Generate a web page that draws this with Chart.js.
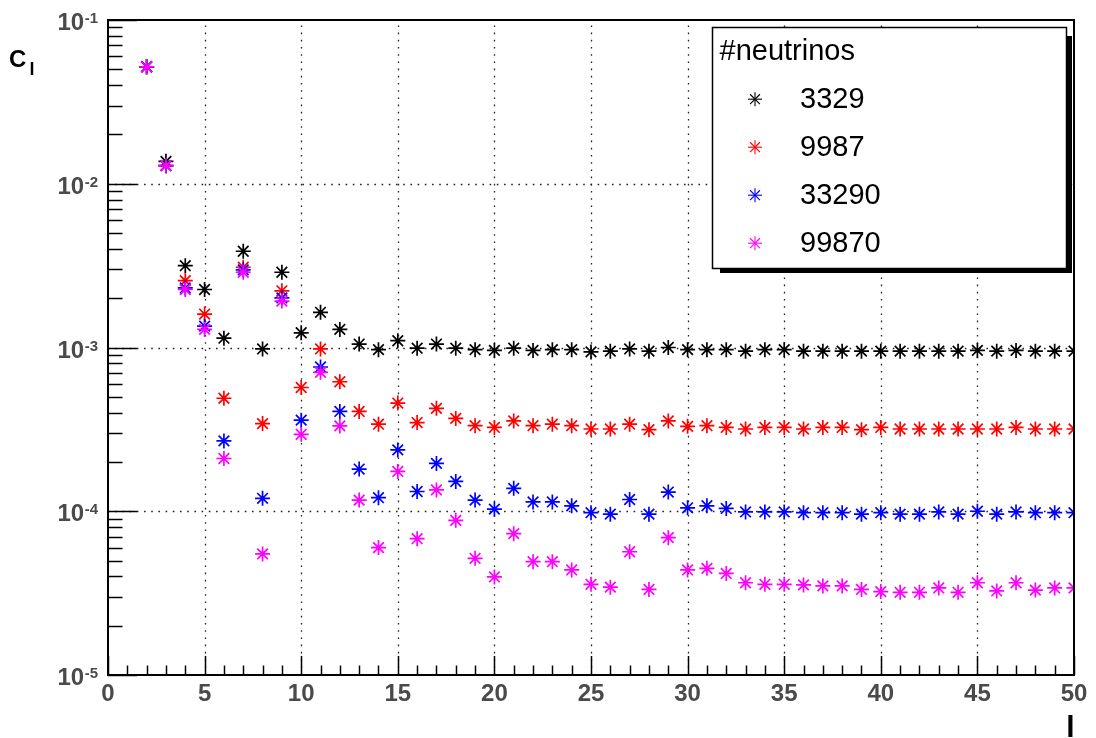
<!DOCTYPE html>
<html><head><meta charset="utf-8">
<script src="https://cdn.jsdelivr.net/npm/chart.js@4.4.1/dist/chart.umd.min.js"></script>
<style>html,body{margin:0;padding:0;background:#fff;overflow:hidden}#wrap{width:1096px;height:738px;position:relative}</style>
</head><body><div id="wrap"><canvas id="c" width="1096" height="738"></canvas></div>
<script>
// ---- data ----
const multipoles = [2,3,4,5,6,7,8,9,10,11,12,13,14,15,16,17,18,19,20,21,22,23,24,25,26,27,28,29,30,31,32,33,34,35,36,37,38,39,40,41,42,43,44,45,46,47,48,49,50];
const seriesNames = ['3329','9987','33290','99870'];
const seriesColors = ['#000000','#ff0000','#0000ff','#ff00ff'];
const cl3329 = [0.0518,0.0137,0.00316,0.00226,0.00114,0.00387,0.00098,0.00288,0.00123,0.00164,0.00129,0.00105,0.00097,0.00110,0.00099,0.00105,0.00099,0.00097,0.00096,0.00099,0.00096,0.00097,0.00097,0.00094,0.00095,0.00098,0.00095,0.00100,0.00097,0.00097,0.00097,0.00095,0.00097,0.00097,0.00095,0.00095,0.00095,0.00095,0.00095,0.00095,0.00095,0.00095,0.00095,0.00096,0.00095,0.00096,0.00095,0.00095,0.00095];
const cl9987 = [0.0518,0.0129,0.00256,0.00160,0.00049,0.00309,0.000343,0.00222,0.00057,0.00098,0.000618,0.000407,0.00034,0.000458,0.000348,0.000425,0.000369,0.000333,0.000325,0.000356,0.000333,0.00034,0.000333,0.000318,0.000318,0.00034,0.000315,0.000356,0.00033,0.000333,0.000325,0.000318,0.000325,0.000325,0.000318,0.000325,0.000325,0.000315,0.000325,0.000318,0.000318,0.000318,0.000318,0.000318,0.000318,0.000325,0.000318,0.000318,0.000318];
const cl33290 = [0.0518,0.0129,0.00231,0.00135,0.000269,0.00298,0.00012,0.00201,0.00036,0.00076,0.000407,0.000181,0.000121,0.000237,0.000132,0.000196,0.000152,0.000117,0.000103,0.000138,0.000114,0.000114,0.000108,0.000098,0.000096,0.000118,0.000096,0.000131,0.000105,0.000108,0.000104,0.000099,0.000099,0.000099,0.000098,0.000098,0.000098,0.000096,0.000098,0.000096,0.000096,0.000099,0.000096,0.0001,0.000096,0.000099,0.000098,0.000098,0.000098];
const cl99870 = [0.0518,0.0129,0.00226,0.00129,0.00021,0.00288,0.0000549,0.00192,0.000295,0.000705,0.000332,0.000117,0.00006,0.000175,0.000068,0.000135,0.000088,0.0000516,0.0000397,0.000073,0.0000492,0.0000492,0.0000438,0.0000358,0.0000344,0.0000566,0.0000333,0.000069,0.0000438,0.0000448,0.0000417,0.0000366,0.0000358,0.0000358,0.0000355,0.000035,0.000035,0.0000333,0.0000323,0.000032,0.000032,0.000034,0.000032,0.0000366,0.0000326,0.0000366,0.000033,0.000034,0.000034];
const xMajorTicks = [0,5,10,15,20,25,30,35,40,45,50];
const yExponents = [-5,-4,-3,-2,-1];
const legendTitle = '#neutrinos';
const yTitle = 'C', ySub = 'l', xTitle = 'l';

const allSeries = [cl3329, cl9987, cl33290, cl99870];
const LABEL_GRAY = '#4a4a4a';
const FONT = '"Liberation Sans", Arial, Helvetica, sans-serif';

const datasets = allSeries.map((vals, i) => ({
  label: seriesNames[i],
  data: multipoles.map((l, j) => ({x: l, y: vals[j]})),
  showLine: false,
  pointStyle: 'star',
  pointRadius: 7.5,
  pointHoverRadius: 7.5,
  pointBorderWidth: 1.7,
  borderColor: seriesColors[i],
  backgroundColor: seriesColors[i],
  order: allSeries.length - 1 - i
}));

const rootPlugin = {
  id: 'rootStyle',
  beforeDatasetsDraw(chart) {
    const {ctx, chartArea: a, scales: {x, y}} = chart;
    ctx.save();
    ctx.strokeStyle = '#222';
    ctx.lineWidth = 1.3;
    ctx.setLineDash([1.6, 5.6]);
    xMajorTicks.forEach(v => {
      if (v <= x.min || v >= x.max) return;
      const px = Math.round(x.getPixelForValue(v)) + 0.5;
      ctx.beginPath(); ctx.moveTo(px, a.bottom); ctx.lineTo(px, a.top); ctx.stroke();
    });
    yExponents.forEach(e => {
      const v = Math.pow(10, e);
      if (v <= y.min * 1.0001 || v >= y.max * 0.9999) return;
      const py = Math.round(y.getPixelForValue(v)) + 0.5;
      ctx.beginPath(); ctx.moveTo(a.left, py); ctx.lineTo(a.right, py); ctx.stroke();
    });
    ctx.restore();
  },
  afterDatasetsDraw(chart) {
    const {ctx, chartArea: a, scales: {x, y}} = chart;
    ctx.save();
    ctx.setLineDash([]);
    ctx.strokeStyle = '#000';
    // ticks x (inward)
    ctx.lineWidth = 1.5;
    for (let v = x.min; v <= x.max; v += 1) {
      const px = Math.round(x.getPixelForValue(v)) + 0.5;
      const len = (v % 5 === 0) ? 19 : 9.5;
      ctx.beginPath(); ctx.moveTo(px, a.bottom); ctx.lineTo(px, a.bottom - len); ctx.stroke();
    }
    // ticks y (inward)
    for (let e = -5; e < -1 + 0.5; e++) {
      for (let m = 1; m <= 9; m++) {
        const v = m * Math.pow(10, e);
        if (v > y.max * 1.0001) break;
        const py = Math.round(y.getPixelForValue(v)) + 0.5;
        const len = (m === 1) ? 29 : 14.5;
        ctx.beginPath(); ctx.moveTo(a.left, py); ctx.lineTo(a.left + len, py); ctx.stroke();
      }
    }
    // frame
    ctx.lineWidth = 2;
    ctx.strokeRect(Math.round(a.left), Math.round(a.top), Math.round(a.right - a.left), Math.round(a.bottom - a.top));

    // y tick labels 10^e
    ctx.fillStyle = LABEL_GRAY;
    ctx.textBaseline = 'alphabetic';
    yExponents.forEach(e => {
      const py = y.getPixelForValue(Math.pow(10, e));
      const sup = String(e);
      ctx.font = 'bold 15px ' + FONT;
      const w2 = ctx.measureText(sup).width;
      const right = 98;
      ctx.textAlign = 'left';
      ctx.fillText(sup, right - w2, py + 3);
      ctx.font = 'bold 24px ' + FONT;
      ctx.textAlign = 'right';
      ctx.fillText('10', right - w2 - 0.5, py + 10);
    });

    // axis titles
    ctx.fillStyle = '#000';
    ctx.textAlign = 'left';
    ctx.font = 'bold 24px ' + FONT;
    ctx.fillText(yTitle, 9, 67);
    ctx.font = 'bold 18px ' + FONT;
    ctx.fillText(ySub, 29.5, 75);
    ctx.font = 'bold 30px ' + FONT;
    ctx.textAlign = 'right';
    ctx.fillText(xTitle, a.right + 0.5, 737);

    // legend
    const L = 712, T = 27, R = 1066, B = 268;
    ctx.fillStyle = '#000';
    ctx.fillRect(720, 36, 1072 - 720, 273 - 36);
    ctx.fillStyle = '#fff';
    ctx.fillRect(L, T, R - L, B - T);
    ctx.lineWidth = 1.5;
    ctx.strokeStyle = '#000';
    ctx.strokeRect(L + 0.5, T + 0.5, R - L, B - T);
    ctx.fillStyle = '#000';
    ctx.textAlign = 'left';
    ctx.font = '29px ' + FONT;
    ctx.fillText(legendTitle, 719.5, 59.5);
    seriesNames.forEach((name, i) => {
      const base = 107.5 + i * 48;
      const my = base - 8.3, mx = 755;
      ctx.strokeStyle = seriesColors[i];
      ctx.lineWidth = 1.1;
      const r = 7;
      for (let k = 0; k < 4; k++) {
        const ang = k * Math.PI / 4;
        const dx = Math.cos(ang) * r, dy = Math.sin(ang) * r;
        ctx.beginPath(); ctx.moveTo(mx - dx, my - dy); ctx.lineTo(mx + dx, my + dy); ctx.stroke();
      }
      ctx.fillStyle = '#000';
      ctx.font = '29px ' + FONT;
      ctx.fillText(name, 800, base);
    });
    ctx.restore();
  }
};

new Chart(document.getElementById('c'), {
  type: 'scatter',
  data: { datasets },
  options: {
    responsive: false,
    animation: false,
    devicePixelRatio: 1,
    layout: { padding: { top: 20, right: 22, left: 0, bottom: 0 } },
    plugins: { legend: { display: false }, tooltip: { enabled: false } },
    scales: {
      x: {
        type: 'linear', min: 0, max: 50,
        grid: { display: false, drawTicks: false },
        border: { display: false },
        ticks: { stepSize: 5, autoSkip: false, maxRotation: 0, color: LABEL_GRAY,
                 font: { family: FONT, size: 24, weight: 'bold' }, padding: 5 },
        afterFit: s => { s.height = 63; }
      },
      y: {
        type: 'logarithmic', min: 1e-5, max: 1e-1,
        grid: { display: false, drawTicks: false },
        border: { display: false },
        ticks: { display: false },
        afterFit: s => { s.width = 108; }
      }
    }
  },
  plugins: [rootPlugin]
});
</script>
</body></html>
